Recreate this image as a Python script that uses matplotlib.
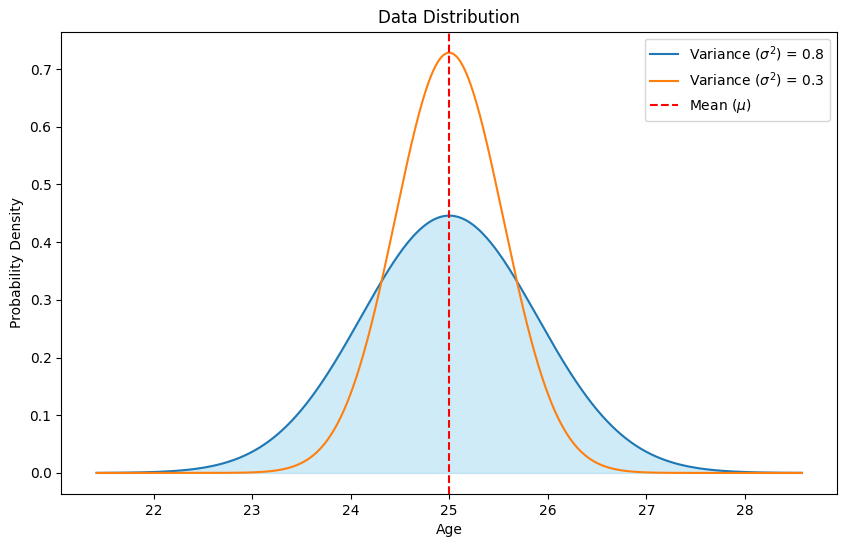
import numpy as np
import matplotlib.pyplot as plt

# distribution parameters
mean = 25
variances = [0.8, 0.3]
labels = [r'Variance ($\sigma^2$) = 0.8', r'Variance ($\sigma^2$) = 0.3']
colors = ['#1f77b4', '#ff7f0e']

sigma_wide = np.sqrt(variances[0])
x = np.linspace(mean - 4 * sigma_wide, mean + 4 * sigma_wide, 1000)


def normal_pdf(x, mu, var):
    return np.exp(-(x - mu) ** 2 / (2 * var)) / np.sqrt(2 * np.pi * var)


fig = plt.figure(figsize=(8.46, 5.47), dpi=100)
ax = fig.add_axes([0.0725, 0.097, 0.917, 0.845])

for var, lab, c in zip(variances, labels, colors):
    ax.plot(x, normal_pdf(x, mean, var), color=c, label=lab)

# shaded area under the wider curve
ax.fill_between(x, normal_pdf(x, mean, variances[0]), color='skyblue', alpha=0.4)

ax.axvline(mean, color='red', linestyle='--', label=r'Mean ($\mu$)')

ax.set_title('Data Distribution')
ax.set_xlabel('Age')
ax.set_ylabel('Probability Density')
ax.legend(loc='upper right')

fig.savefig('out.png')
